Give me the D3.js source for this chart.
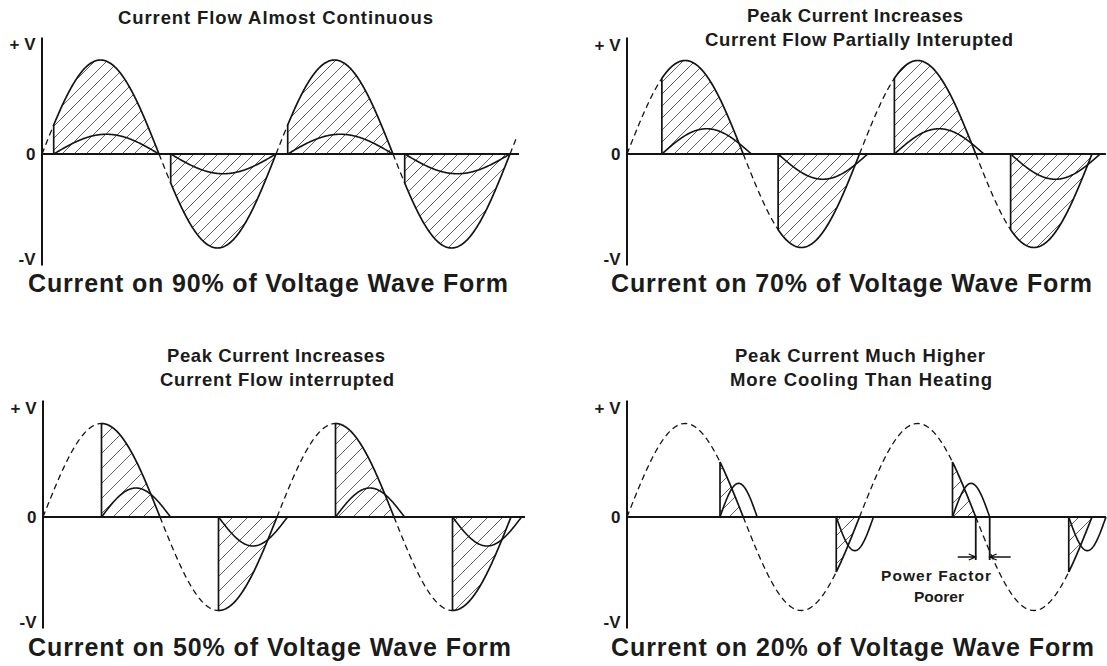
<!DOCTYPE html>
<html>
<head>
<meta charset="utf-8">
<script src="https://cdn.jsdelivr.net/npm/d3@7"></script>
<style>
body { margin: 0; background: #fff; }
svg { display: block; }
text { font-family: "Liberation Sans", Arial, sans-serif; font-weight: bold; fill: #1b1b1b; }
</style>
</head>
<body>
<svg id="chart" width="1107" height="666"></svg>
<script>
// values
const conductionPct = [90, 70, 50, 20];          // % of each half wave that conducts
const currentPeak = [0.21, 0.27, 0.31, 0.36];    // current hump height, in units of V peak
const currentLag = [0.0, 0.07, 0.09, 0.12];      // current runs past the voltage zero (half cycles)
const halfCycles = [0, 1, 2, 3];
const headTitles = [
  ["Current Flow Almost Continuous"],
  ["Peak Current Increases", "Current Flow Partially Interupted"],
  ["Peak Current Increases", "Current Flow interrupted"],
  ["Peak Current Much Higher", "More Cooling Than Heating"]
];
const footTitles = conductionPct.map(p => "Current on " + p + "% of Voltage Wave Form");
const yTickValues = [1.17, 0, -1.12];
const yTickLabels = ["+ V", "0", "-V"];
const noteLines = ["Power Factor", "Poorer"];

// where each panel sits on the page
const layout = [
  {x0: 42, x4: 510, zero: 154, amp: 94, zEnd: 4.077, vEnd: 4.05, hatch: 12,
   headY: [24], headX: [275.5], headW: [315], footY: 292, footX: 28, footW: 480},
  {x0: 627, x4: 1092, zero: 154, amp: 93.5, zEnd: 4.12, vEnd: 4, hatch: 12,
   headY: [22, 46], headX: [855, 859], headW: [216, 308], footY: 292, footX: 611, footW: 481},
  {x0: 43, x4: 511, zero: 517, amp: 93.5, zEnd: 4.12, vEnd: 4, hatch: 15,
   headY: [362, 386], headX: [276, 277], headW: [218, 234], footY: 656, footX: 28, footW: 483},
  {x0: 627, x4: 1092, zero: 517, amp: 93.5, zEnd: 4.12, vEnd: 4, hatch: 14,
   headY: [362, 386], headX: [860, 861], headW: [250, 262], footY: 656, footX: 611, footW: 483}
];

const svg = d3.select("#chart");
const defs = svg.append("defs");
const ink = "#141414";

const samples = (a, b) => { const pts = d3.range(a, b, 0.004); pts.push(b); return pts; };
const volt = p => Math.sin(Math.PI * p);

layout.forEach((L, i) => {
  const s = 1 - conductionPct[i] / 100;
  const x = d3.scaleLinear().domain([0, 4]).range([L.x0, L.x4]);
  const y = d3.scaleLinear().domain([-1, 1]).range([L.zero + L.amp, L.zero - L.amp]);
  const g = svg.append("g");

  const h = L.hatch;
  defs.append("pattern")
    .attr("id", "hatch" + i)
    .attr("patternUnits", "userSpaceOnUse")
    .attr("width", h).attr("height", h)
    .append("path")
    .attr("d", `M-1,1 l2,-2 M0,${h} L${h},0 M${h - 1},${h + 1} l2,-2`)
    .attr("stroke", "#3a3a3a").attr("stroke-width", 0.8);

  const line = d3.line().x(d => x(d[0])).y(d => y(d[1]));
  const area = d3.area().x(d => x(d[0])).y0(y(0)).y1(d => y(d[1]));

  // hatched part of the voltage that conducts
  g.selectAll("path.hatch").data(halfCycles).join("path")
    .attr("class", "hatch")
    .attr("d", k => area(samples(k + s, k + 1).map(p => [p, volt(p)])))
    .attr("fill", `url(#hatch${i})`);

  // y axis with +V / 0 / -V
  const yAxisScale = d3.scaleLinear()
    .domain([-111 / L.amp, 117 / L.amp])
    .range([L.zero + 111, L.zero - 117]);
  const axisX = L.x0 - 0.5;
  g.append("g")
    .attr("transform", `translate(${axisX},0)`)
    .call(d3.axisLeft(yAxisScale).tickValues(yTickValues).tickSize(0).tickPadding(6)
      .tickFormat((d, j) => yTickLabels[j]))
    .call(a => a.attr("font-family", null).attr("font-size", null))
    .call(a => a.select(".domain").attr("stroke", ink).attr("stroke-width", 2))
    .call(a => a.selectAll("text").attr("font-size", 17).attr("fill", ink));

  // zero line
  g.append("line")
    .attr("x1", axisX).attr("x2", x(L.zEnd))
    .attr("y1", y(0)).attr("y2", y(0))
    .attr("stroke", ink).attr("stroke-width", 2);

  // voltage outside conduction: dashed
  const dashSegs = halfCycles.map(k => samples(k, k + s));
  if (L.vEnd > 4) dashSegs.push(samples(4, L.vEnd));
  g.selectAll("path.vdash").data(dashSegs).join("path")
    .attr("class", "vdash")
    .attr("d", seg => line(seg.map(p => [p, volt(p)])))
    .attr("fill", "none").attr("stroke", ink)
    .attr("stroke-width", 1.3).attr("stroke-dasharray", "6,4");

  // voltage while conducting: solid, starting with the vertical switch-on edge
  g.selectAll("path.vsolid").data(halfCycles).join("path")
    .attr("class", "vsolid")
    .attr("d", k => line([[k + s, 0]].concat(samples(k + s, k + 1).map(p => [p, volt(p)]))))
    .attr("fill", "none").attr("stroke", ink).attr("stroke-width", 1.7);

  // current humps
  const span = 1 - s + currentLag[i];
  g.selectAll("path.cur").data(halfCycles).join("path")
    .attr("class", "cur")
    .attr("d", k => {
      const sign = k % 2 === 0 ? 1 : -1;
      return line(samples(k + s, k + s + span)
        .map(p => [p, sign * currentPeak[i] * Math.sin(Math.PI * (p - k - s) / span)]));
    })
    .attr("fill", "none").attr("stroke", ink).attr("stroke-width", 1.6);

  // titles
  headTitles[i].forEach((t, j) => {
    g.append("text")
      .attr("x", L.headX[j]).attr("y", L.headY[j])
      .attr("text-anchor", "middle")
      .attr("font-size", 18.5)
      .attr("textLength", L.headW[j]).attr("lengthAdjust", "spacing")
      .text(t);
  });
  g.append("text")
    .attr("x", L.footX).attr("y", L.footY)
    .attr("font-size", 25)
    .attr("textLength", L.footW).attr("lengthAdjust", "spacing")
    .attr("fill", "#111")
    .text(footTitles[i]);

  // power factor note on the last panel
  if (i === 3) {
    const xa = x(3), xb = x(3 + currentLag[i]);
    const yb = y(0) + 43, ya = y(0) + 40;
    g.append("path")
      .attr("d", `M${xa},${y(0)}V${yb}M${xb},${y(0)}V${yb}`)
      .attr("stroke", ink).attr("stroke-width", 1.8);
    g.append("path")
      .attr("d", `M${xa - 18},${ya}H${xa}M${xa - 7},${ya - 3}L${xa},${ya}L${xa - 7},${ya + 3}` +
                 `M${xb + 21},${ya}H${xb}M${xb + 7},${ya - 3}L${xb},${ya}L${xb + 7},${ya + 3}`)
      .attr("fill", "none").attr("stroke", ink).attr("stroke-width", 1.3);
    g.append("text").attr("x", 936).attr("y", y(0) + 64)
      .attr("text-anchor", "middle").attr("font-size", 15.5)
      .attr("textLength", 110).attr("lengthAdjust", "spacing")
      .text(noteLines[0]);
    g.append("text").attr("x", 939).attr("y", y(0) + 85)
      .attr("text-anchor", "middle").attr("font-size", 15.5)
      .text(noteLines[1]);
  }
});
</script>
</body>
</html>
